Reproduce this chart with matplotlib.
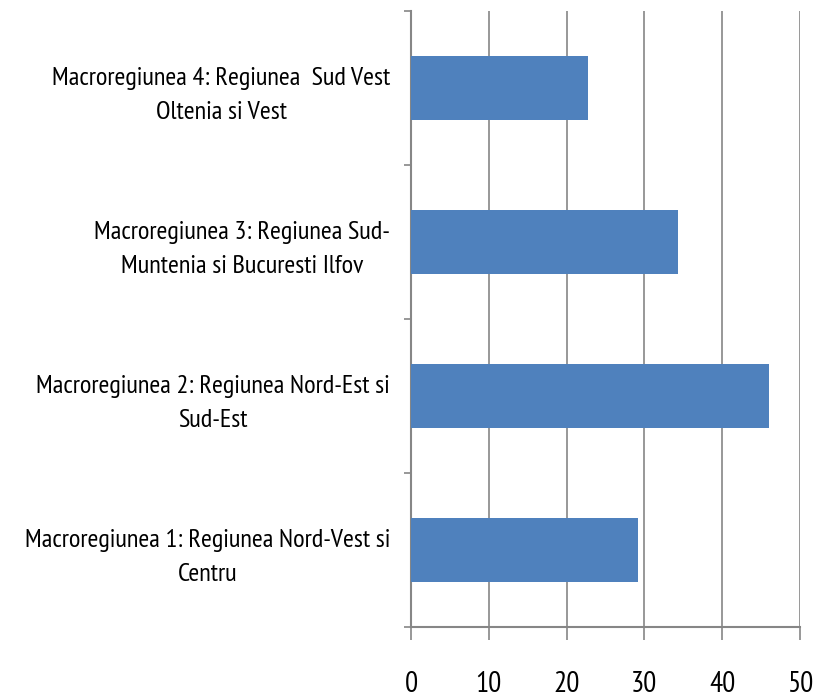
import matplotlib
matplotlib.use("Agg")
import matplotlib.pyplot as plt
import numpy as np

categories = [
    "Macroregiunea 1: Regiunea Nord-Vest si\nCentru",
    "Macroregiunea 2: Regiunea Nord-Est si\nSud-Est",
    "Macroregiunea 3: Regiunea Sud-\nMuntenia si Bucuresti Ilfov",
    "Macroregiunea 4: Regiunea  Sud Vest\nOltenia si Vest",
]
values = [29.2, 46.0, 34.3, 22.8]
xticks = [0, 10, 20, 30, 40, 50]

plt.rcParams['font.family'] = ['PT Sans Narrow', 'DejaVu Sans']

gray = "#868686"
fig = plt.figure(figsize=(8.23, 7.0), dpi=100)
ax = fig.add_axes([411/823, 73/700, 389/823, 616/700])

pos = np.arange(len(categories))
ax.barh(pos, values, height=0.41, color="#4F81BD", zorder=3)

ax.set_xlim(0, 50)
ax.set_ylim(-0.5, len(categories) - 0.5)
ax.set_xticks(xticks)
ax.set_xticklabels([str(t) for t in xticks], fontsize=21)
ax.set_yticks(pos)
ax.set_yticklabels(categories, fontsize=19, multialignment='center', linespacing=1.6)
ax.set_yticks(np.arange(-0.5, len(categories)), minor=True)

ax.tick_params(axis='y', which='major', length=0, pad=15)
ax.tick_params(axis='y', which='minor', length=5, color=gray, width=1.2, direction='out')
ax.tick_params(axis='x', which='major', length=9.5, color=gray, width=1.2, direction='out', pad=22)

ax.grid(axis='x', color=gray, linewidth=1.2, zorder=0)
for s in ['top', 'right']:
    ax.spines[s].set_visible(False)
for s in ['left', 'bottom']:
    ax.spines[s].set_color(gray)
    ax.spines[s].set_linewidth(1.5)
ax.spines['bottom'].set_bounds(0, 50)

fig.savefig("out.png", dpi=100)
